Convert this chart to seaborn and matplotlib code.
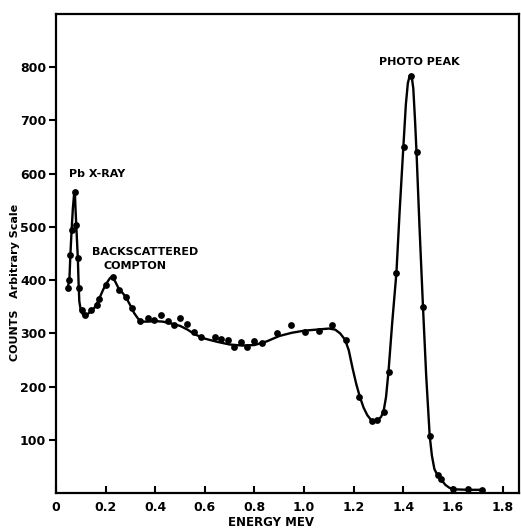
import matplotlib
matplotlib.use("Agg")
import matplotlib.pyplot as plt
import seaborn as sns
import pandas as pd
from matplotlib.ticker import FixedLocator, FuncFormatter

# Measured points (energy MeV, counts)
point_energy = [0.047, 0.054, 0.058, 0.063, 0.075, 0.081, 0.088, 0.092, 0.105, 0.118,
                0.141, 0.165, 0.175, 0.200, 0.228, 0.254, 0.284, 0.308, 0.339, 0.369,
                0.396, 0.423, 0.450, 0.474, 0.501, 0.528, 0.555, 0.584, 0.642, 0.665,
                0.692, 0.716, 0.746, 0.770, 0.800, 0.831, 0.891, 0.948, 1.002, 1.058,
                1.113, 1.167, 1.221, 1.273, 1.292, 1.321, 1.341, 1.372, 1.401, 1.430,
                1.453, 1.479, 1.506, 1.538, 1.552, 1.601, 1.661, 1.715]
point_counts = [385, 401, 448, 495, 566, 504, 441, 385, 343, 335,
                343, 354, 365, 390, 406, 381, 369, 347, 323, 328,
                325, 335, 323, 315, 328, 318, 302, 294, 294, 289,
                288, 275, 283, 275, 286, 282, 300, 315, 303, 305,
                316, 287, 181, 136, 138, 153, 228, 414, 651, 783,
                640, 350, 108, 33, 26, 8, 7, 6]

# Drawn curve
curve_energy = [0.047, 0.054, 0.058, 0.063, 0.068, 0.073, 0.076, 0.079, 0.082, 0.088,
                0.091, 0.094, 0.100, 0.108, 0.118, 0.130, 0.141, 0.155, 0.165, 0.175,
                0.190, 0.205, 0.218, 0.228, 0.240, 0.254, 0.270, 0.284, 0.300, 0.315,
                0.330, 0.345, 0.370, 0.400, 0.430, 0.460, 0.500, 0.530, 0.560, 0.600,
                0.650, 0.700, 0.750, 0.800, 0.850, 0.900, 0.950, 1.000, 1.050, 1.100,
                1.125, 1.145, 1.165, 1.180, 1.195, 1.210, 1.225, 1.240, 1.255, 1.270,
                1.280, 1.295, 1.310, 1.320, 1.330, 1.340, 1.355, 1.372, 1.385, 1.400,
                1.410, 1.418, 1.425, 1.433, 1.440, 1.447, 1.453, 1.465, 1.479, 1.492,
                1.506, 1.515, 1.525, 1.538, 1.552, 1.570, 1.585, 1.600, 1.660, 1.715]
curve_counts = [385, 401, 448, 495, 535, 562, 565, 530, 500, 441,
                395, 360, 343, 336, 334, 337, 342, 348, 356, 366,
                382, 395, 404, 406, 396, 383, 375, 366, 352, 338,
                328, 322, 322, 323, 322, 319, 314, 307, 298, 290,
                284, 279, 277, 278, 285, 295, 301, 305, 307, 309,
                307, 300, 288, 268, 235, 205, 180, 160, 146, 137,
                134, 136, 143, 153, 180, 228, 320, 414, 530, 651,
                730, 770, 783, 785, 760, 700, 640, 500, 350, 220,
                108, 70, 45, 33, 25, 15, 10, 7, 6, 6]

x_ticks = [0, 0.2, 0.4, 0.6, 0.8, 1.0, 1.2, 1.4, 1.6, 1.8]
y_ticks = [100, 200, 300, 400, 500, 600, 700, 800]

points = pd.DataFrame({"energy": point_energy, "counts": point_counts})
curve = pd.DataFrame({"energy": curve_energy, "counts": curve_counts})

sns.set_theme(style="white")
plt.rcParams["font.family"] = ["DejaVu Sans"]
plt.rcParams["text.color"] = "black"
plt.rcParams["xtick.color"] = "black"
plt.rcParams["ytick.color"] = "black"
plt.rcParams["axes.labelcolor"] = "black"

fig = plt.figure(figsize=(5.21, 5.32), dpi=100)
ax = fig.add_axes([56 / 521, 1 - 493 / 532, 463 / 521, 479 / 532])

sns.lineplot(data=curve, x="energy", y="counts", sort=False, color="black",
             linewidth=1.7, ax=ax, estimator=None)
sns.scatterplot(data=points, x="energy", y="counts", color="black", s=24,
                edgecolor="black", linewidth=0, ax=ax, zorder=3)

ax.set_xlim(0, 1.866)
ax.set_ylim(0, 900)
ax.xaxis.set_major_locator(FixedLocator(x_ticks))
ax.yaxis.set_major_locator(FixedLocator(y_ticks))
ax.xaxis.set_major_formatter(FuncFormatter(lambda v, p: "0" if v == 0 else f"{v:.1f}"))
ax.tick_params(axis="x", direction="in", length=5, width=1.5, labelsize=9, pad=6,
               bottom=True, colors="black")
ax.tick_params(axis="y", direction="out", length=5, width=1.5, labelsize=9, pad=2,
               left=True, colors="black")
for lab in ax.get_xticklabels() + ax.get_yticklabels():
    lab.set_fontweight("bold")
for sp in ax.spines.values():
    sp.set_visible(True)
    sp.set_color("black")
    sp.set_linewidth(1.6)
ax.set_xlabel("")
ax.set_ylabel("")

ax.text(1.466, 810, "PHOTO PEAK", ha="center", va="center", fontsize=8, fontweight="bold",
        color="black")
ax.text(0.053, 600, "Pb X-RAY", ha="left", va="center", fontsize=8, fontweight="bold",
        color="black")
ax.text(0.359, 452, "BACKSCATTERED", ha="center", va="center", fontsize=8,
        fontweight="bold", color="black")
ax.text(0.318, 426, "COMPTON", ha="center", va="center", fontsize=8, fontweight="bold",
        color="black")

fig.text(271 / 521, 1 - 522 / 532, "ENERGY MEV", ha="center", va="center",
         fontsize=8.5, fontweight="bold", color="black")
fig.text(15 / 521, 1 - 282 / 532, "COUNTS   Arbitrary Scale", rotation=90,
         ha="center", va="center", fontsize=8, fontweight="bold", color="black")

fig.savefig("out.png", dpi=100, facecolor="white")
